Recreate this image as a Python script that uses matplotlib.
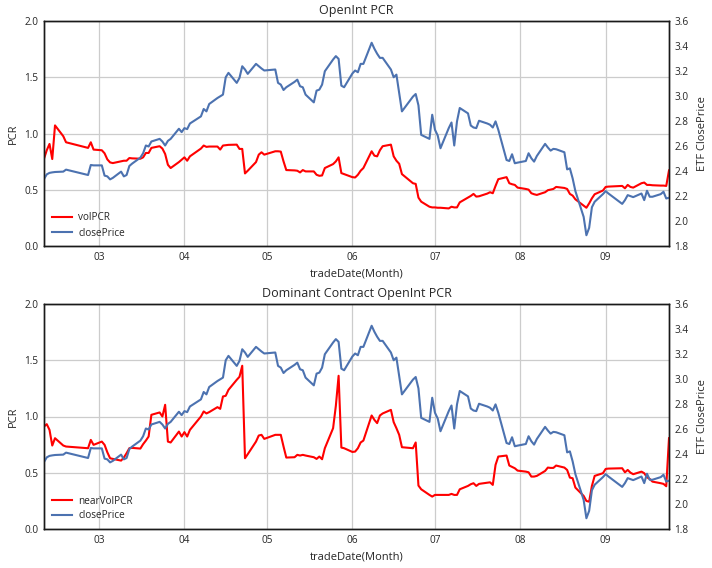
import matplotlib
matplotlib.use('Agg')
import matplotlib.pyplot as plt
import matplotlib.dates as mdates
import pandas as pd

plt.rcParams['font.family'] = ['Open Sans', 'DejaVu Sans']

feb = ['2015-02-09', '2015-02-10', '2015-02-11', '2015-02-12', '2015-02-13', '2015-02-16', '2015-02-17',
       '2015-02-25', '2015-02-26', '2015-02-27']
mar = ['2015-03-02', '2015-03-03', '2015-03-04', '2015-03-05', '2015-03-06', '2015-03-09', '2015-03-10',
       '2015-03-11', '2015-03-12', '2015-03-13', '2015-03-16', '2015-03-17', '2015-03-18', '2015-03-19',
       '2015-03-20', '2015-03-23', '2015-03-24', '2015-03-25', '2015-03-26', '2015-03-27', '2015-03-30',
       '2015-03-31']
apr = ['2015-04-01', '2015-04-02', '2015-04-03', '2015-04-07', '2015-04-08', '2015-04-09', '2015-04-10',
       '2015-04-13', '2015-04-14', '2015-04-15', '2015-04-16', '2015-04-17', '2015-04-20', '2015-04-21',
       '2015-04-22', '2015-04-23', '2015-04-24', '2015-04-27', '2015-04-28', '2015-04-29', '2015-04-30']
may = ['2015-05-04', '2015-05-05', '2015-05-06', '2015-05-07', '2015-05-08', '2015-05-11', '2015-05-12',
       '2015-05-13', '2015-05-14', '2015-05-15', '2015-05-18', '2015-05-19', '2015-05-20', '2015-05-21',
       '2015-05-22', '2015-05-25', '2015-05-26', '2015-05-27', '2015-05-28', '2015-05-29']
jun = ['2015-06-01', '2015-06-02', '2015-06-03', '2015-06-04', '2015-06-05', '2015-06-08', '2015-06-09',
       '2015-06-10', '2015-06-11', '2015-06-12', '2015-06-15', '2015-06-16', '2015-06-17', '2015-06-18',
       '2015-06-19', '2015-06-23', '2015-06-24', '2015-06-25', '2015-06-26', '2015-06-29', '2015-06-30']
jul = ['2015-07-01', '2015-07-02', '2015-07-03', '2015-07-06', '2015-07-07', '2015-07-08', '2015-07-09',
       '2015-07-10', '2015-07-13', '2015-07-14', '2015-07-15', '2015-07-16', '2015-07-17', '2015-07-20',
       '2015-07-21', '2015-07-22', '2015-07-23', '2015-07-24', '2015-07-27', '2015-07-28', '2015-07-29',
       '2015-07-30', '2015-07-31']
aug = ['2015-08-03', '2015-08-04', '2015-08-05', '2015-08-06', '2015-08-07', '2015-08-10', '2015-08-11',
       '2015-08-12', '2015-08-13', '2015-08-14', '2015-08-17', '2015-08-18', '2015-08-19', '2015-08-20',
       '2015-08-21', '2015-08-24', '2015-08-25', '2015-08-26', '2015-08-27', '2015-08-28', '2015-08-31']
sep = ['2015-09-01', '2015-09-02', '2015-09-07', '2015-09-08', '2015-09-09', '2015-09-10', '2015-09-11',
       '2015-09-14', '2015-09-15', '2015-09-16', '2015-09-17', '2015-09-18', '2015-09-21', '2015-09-22',
       '2015-09-23', '2015-09-24']
trade_dates = pd.to_datetime(feb + mar + apr + may + jun + jul + aug + sep)

close_price = [
    2.336, 2.373, 2.385, 2.389, 2.392, 2.395, 2.411, 2.368, 2.448, 2.445,
    2.445, 2.363, 2.357, 2.333, 2.345, 2.395, 2.357, 2.368, 2.44, 2.459, 2.507, 2.542, 2.604, 2.596,
    2.636, 2.657, 2.636, 2.604, 2.641, 2.657, 2.738, 2.711,
    2.743, 2.735, 2.78, 2.837, 2.896, 2.877, 2.936, 2.984, 2.997, 3.011, 3.15, 3.185, 3.105, 3.145,
    3.238, 3.212, 3.177, 3.257, 3.238, 3.22, 3.204,
    3.212, 3.105, 3.091, 3.048, 3.07, 3.113, 3.131, 3.078, 3.07, 3.011, 2.949, 3.043, 3.051, 3.091,
    3.198, 3.292, 3.319, 3.297, 3.083, 3.07,
    3.18, 3.204, 3.19, 3.257, 3.257, 3.426, 3.378, 3.338, 3.305, 3.305, 3.212, 3.15, 3.171, 3.024,
    2.877, 2.995, 3.016, 2.925, 2.689, 2.657, 2.85,
    2.73, 2.684, 2.582, 2.743, 2.788, 2.604, 2.797, 2.904, 2.861, 2.764, 2.748, 2.743, 2.802, 2.78,
    2.77, 2.748, 2.797, 2.73, 2.488, 2.48, 2.534, 2.462, 2.467,
    2.48, 2.542, 2.502, 2.475, 2.52, 2.617, 2.588, 2.563, 2.577, 2.574, 2.55, 2.413, 2.421, 2.341,
    2.239, 2.033, 1.886, 1.945, 2.11, 2.154, 2.215,
    2.239, 2.22, 2.137, 2.167, 2.207, 2.199, 2.191, 2.22, 2.167, 2.242, 2.194, 2.194, 2.215, 2.234,
    2.18, 2.186]

vol_pcr = [
    0.776, 0.851, 0.907, 0.773, 1.072, 0.976, 0.922, 0.872, 0.922, 0.857,
    0.851, 0.824, 0.77, 0.743, 0.737, 0.752, 0.758, 0.758, 0.782, 0.779, 0.776, 0.788, 0.827, 0.827,
    0.872, 0.887, 0.866, 0.818, 0.722, 0.693, 0.746, 0.767,
    0.788, 0.758, 0.797, 0.866, 0.893, 0.881, 0.884, 0.884, 0.857, 0.893, 0.896, 0.899, 0.901, 0.863,
    0.863, 0.645, 0.669, 0.746, 0.812, 0.833, 0.812,
    0.842, 0.842, 0.839, 0.752, 0.675, 0.672, 0.669, 0.654, 0.675, 0.663, 0.663, 0.633, 0.624, 0.627,
    0.693, 0.728, 0.752, 0.788, 0.648, 0.639,
    0.612, 0.609, 0.633, 0.669, 0.693, 0.842, 0.803, 0.797, 0.851, 0.887, 0.901, 0.797, 0.758, 0.731,
    0.639, 0.558, 0.552, 0.43, 0.394, 0.349, 0.343,
    0.343, 0.34, 0.34, 0.334, 0.349, 0.343, 0.343, 0.388, 0.43, 0.445, 0.463, 0.439, 0.442, 0.466,
    0.478, 0.469, 0.534, 0.594, 0.612, 0.558, 0.549, 0.543, 0.519,
    0.507, 0.501, 0.469, 0.46, 0.454, 0.478, 0.496, 0.501, 0.507, 0.525, 0.516, 0.507, 0.463, 0.448,
    0.415, 0.358, 0.34, 0.379, 0.424, 0.46, 0.493,
    0.525, 0.528, 0.534, 0.513, 0.543, 0.525, 0.519, 0.558, 0.564, 0.543, 0.543, 0.54, 0.537, 0.537,
    0.534, 0.672]

near_vol_pcr = [
    0.911, 0.932, 0.881, 0.742, 0.807, 0.742, 0.733, 0.718, 0.792, 0.748,
    0.777, 0.748, 0.682, 0.629, 0.623, 0.608, 0.635, 0.674, 0.718, 0.721, 0.715, 0.754, 0.786, 0.822,
    1.015, 1.036, 1.0, 1.104, 0.777, 0.769, 0.866, 0.822,
    0.861, 0.822, 0.881, 1.0, 1.045, 1.027, 1.039, 1.083, 1.068, 1.178, 1.184, 1.237, 1.326, 1.353,
    1.451, 0.629, 0.665, 0.777, 0.831, 0.837, 0.801,
    0.837, 0.837, 0.837, 0.733, 0.635, 0.638, 0.659, 0.653, 0.659, 0.653, 0.638, 0.623, 0.644, 0.62,
    0.718, 0.896, 1.095, 1.362, 0.724, 0.718,
    0.685, 0.688, 0.718, 0.769, 0.786, 1.009, 0.97, 0.941, 1.009, 1.027, 1.059, 0.95, 0.896, 0.837,
    0.727, 0.718, 0.769, 0.386, 0.353, 0.303, 0.288,
    0.303, 0.303, 0.303, 0.303, 0.312, 0.303, 0.303, 0.353, 0.383, 0.398, 0.407, 0.383, 0.401, 0.412,
    0.415, 0.392, 0.57, 0.644, 0.653, 0.564, 0.552, 0.54, 0.519,
    0.51, 0.504, 0.466, 0.466, 0.472, 0.516, 0.546, 0.543, 0.543, 0.564, 0.546, 0.525, 0.457, 0.451,
    0.368, 0.294, 0.249, 0.243, 0.383, 0.472, 0.496,
    0.534, 0.537, 0.54, 0.504, 0.525, 0.501, 0.487, 0.51, 0.496, 0.46, 0.445, 0.421, 0.407, 0.401,
    0.38, 0.807]

panels = [
    ('OpenInt PCR', 'volPCR', vol_pcr),
    ('Dominant Contract OpenInt PCR', 'nearVolPCR', near_vol_pcr),
]

RED = '#ff0000'
BLUE = '#4c72b0'
GRID = '#cccccc'
TXT = '#262626'

fig = plt.figure(figsize=(7.12, 5.68), dpi=100)
fig.patch.set_facecolor('white')

positions = [[44 / 712, 1 - 246 / 568, 625 / 712, 225 / 568],
             [44 / 712, 1 - 529 / 568, 625 / 712, 225 / 568]]

for pos, (title, label, pcr) in zip(positions, panels):
    ax = fig.add_axes(pos)
    ax2 = ax.twinx()
    l1, = ax.plot(trade_dates, pcr, color=RED, lw=1.5, label=label)
    l2, = ax2.plot(trade_dates, close_price, color=BLUE, lw=1.5, label='closePrice')

    ax.set_xlim(trade_dates[0], trade_dates[-1])
    ax.set_ylim(0, 2.0)
    ax.set_yticks([0, 0.5, 1.0, 1.5, 2.0])
    ax.set_yticklabels(['%.1f' % v for v in [0, 0.5, 1.0, 1.5, 2.0]])
    ax2.set_ylim(1.8, 3.6)
    ticks2 = [1.8, 2.0, 2.2, 2.4, 2.6, 2.8, 3.0, 3.2, 3.4, 3.6]
    ax2.set_yticks(ticks2)
    ax2.set_yticklabels(['%.1f' % v for v in ticks2])

    ax.xaxis.set_major_locator(mdates.MonthLocator())
    ax.xaxis.set_major_formatter(mdates.DateFormatter('%m'))

    ax.grid(True, color=GRID, lw=0.9)
    ax2.grid(False)
    ax.set_axisbelow(True)
    for a in (ax, ax2):
        a.tick_params(length=0, labelsize=7.2, colors=TXT, pad=4)
        for sp in a.spines.values():
            sp.set_color('#1a1a1a')
            sp.set_linewidth(1.0)

    ax.set_title(title, fontsize=9, color=TXT, pad=5)
    ax.set_xlabel('tradeDate(Month)', fontsize=8, color=TXT, labelpad=4)
    ax.set_ylabel('PCR', fontsize=8, color=TXT, labelpad=4)
    ax2.set_ylabel('ETF ClosePrice', fontsize=8, color=TXT, labelpad=6)

    leg = ax2.legend([l1, l2], [label, 'closePrice'], loc='lower left', frameon=False,
                     fontsize=7.2, handlelength=2.0, handletextpad=0.7,
                     borderaxespad=0.35, labelspacing=0.4)
    for t in leg.get_texts():
        t.set_color(TXT)

fig.savefig('out.png', dpi=100, facecolor='white')
